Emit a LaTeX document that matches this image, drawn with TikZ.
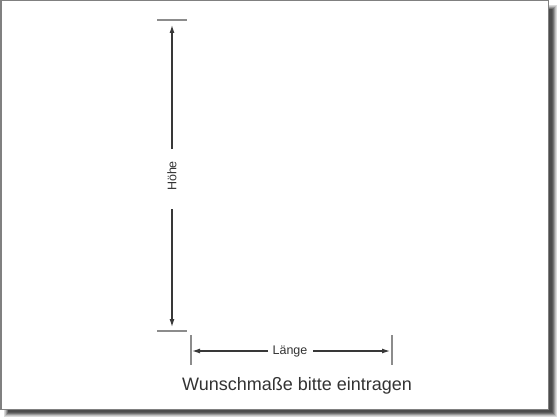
\documentclass[tikz,border=0pt]{standalone}
\usepackage{fontspec}
\setmainfont{Liberation Sans}
\usetikzlibrary{arrows.meta}
\begin{document}
\begin{tikzpicture}[x=1pt,y=-1pt,
  dimline/.style={draw=black!78,line width=1.2pt,-{Latex[length=8pt,width=5pt]}},
  tickline/.style={draw=black!45,line width=1.3pt},
  lbl/.style={text=black!80,inner sep=2pt}]
\useasboundingbox (0,0) rectangle (560,420);
\fill[white] (0,0) rectangle (560,420);
% shadow
\foreach \i/\c in {0/15,1/25,2/40,3/55,4/65}{
  \fill[black!\c] (4+\i,5+\i) rectangle (557-\i,417-\i);
}
\fill[black!70] (8,9) rectangle (552,412);
% frame
\draw[fill=white,draw=black!50,line width=1.5pt] (0.75,0.75) rectangle (548.5,409.5);
% ticks
\coordinate (tt1) at (157,20); \coordinate (tt2) at (187,20);
\coordinate (tb1) at (157,331); \coordinate (tb2) at (187,331);
\coordinate (tl1) at (191,335); \coordinate (tl2) at (191,365);
\coordinate (tr1) at (392,335); \coordinate (tr2) at (392,365);
\draw[tickline] (tt1) -- (tt2);
\draw[tickline] (tb1) -- (tb2);
\draw[tickline] (tl1) -- (tl2);
\draw[tickline] (tr1) -- (tr2);
% vertical dimension
\coordinate (vtop) at (172,25);
\coordinate (vbot) at (172,327);
\node[lbl,rotate=90,font=\fontsize{12.5}{14}\selectfont] (hoehe) at (172,176) {Höhe};
\draw[dimline] (172,149) -- (vtop);
\draw[dimline] (172,209) -- (vbot);
% horizontal dimension
\coordinate (hl) at (192,351);
\coordinate (hr) at (390,351);
\node[lbl,font=\fontsize{12.5}{14}\selectfont] (laenge) at (290,351) {Länge};
\draw[dimline] (268,351) -- (hl);
\draw[dimline] (313,351) -- (hr);
% caption
\node[lbl,font=\fontsize{18}{20}\selectfont] (caption) at (297,386) {Wunschmaße bitte eintragen};
\end{tikzpicture}
\end{document}
